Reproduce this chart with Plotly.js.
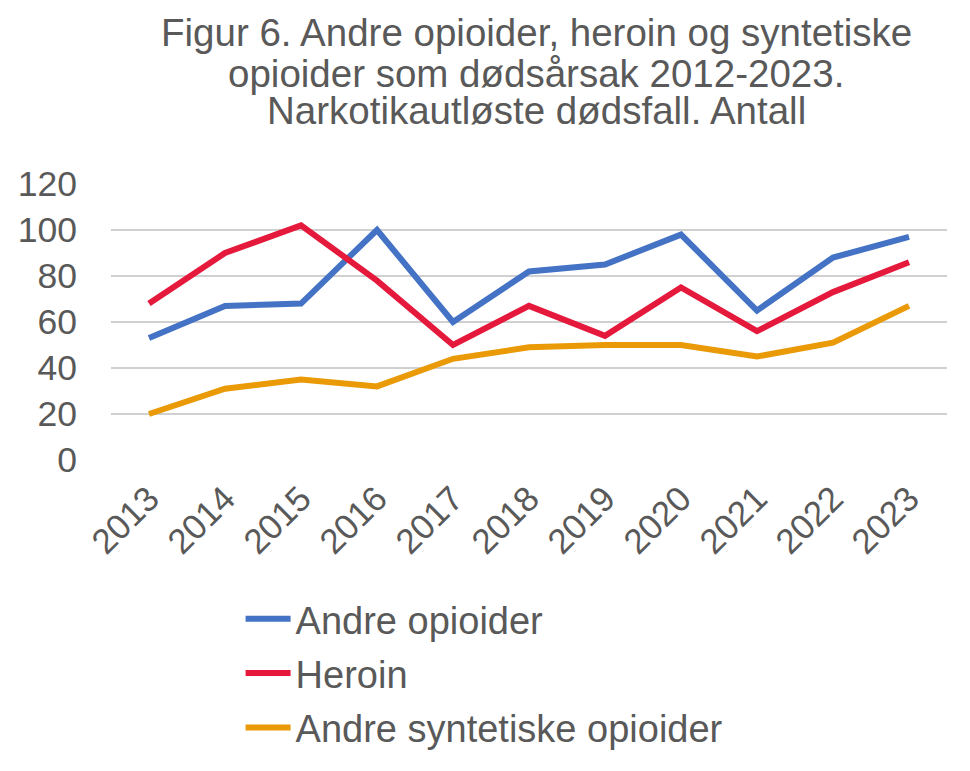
<!DOCTYPE html>
<html>
<head>
<meta charset="utf-8">
<script src="https://cdn.plot.ly/plotly-3.0.1.min.js"></script>
<style>html,body{margin:0;padding:0;background:#fff;}</style>
</head>
<body>
<div id="chart" style="width:970px;height:771px;"></div>
<script>
const years = ["2013","2014","2015","2016","2017","2018","2019","2020","2021","2022","2023"];
const andreOpioider = [53, 67, 68, 100, 60, 82, 85, 98, 65, 88, 97];
const heroin = [68, 90, 102, 78, 50, 67, 54, 75, 56, 73, 86];
const syntetiske = [20, 31, 35, 32, 44, 49, 50, 50, 45, 51, 67];
const seriesNames = ["Andre opioider", "Heroin", "Andre syntetiske opioider"];
const yTicks = [0, 20, 40, 60, 80, 100, 120];
const titleLines = [
  "Figur 6. Andre opioider, heroin og syntetiske",
  "opioider som dødsårsak 2012-2023.",
  "Narkotikautløste dødsfall. Antall"
];

const font = "'Liberation Sans', Arial, sans-serif";
const grey = "#595959";
const colors = ["#4472C4", "#E5193B", "#E99A06"];
const seriesData = [andreOpioider, heroin, syntetiske];

const traces = seriesData.map((vals, i) => ({
  type: "scatter",
  mode: "lines",
  x: years,
  y: vals,
  name: seriesNames[i],
  legendgroup: "g" + i,
  line: {color: colors[i], width: 6}
}));

// title lines placed individually to match the reference line spacing
const titleY = [29, 71, 109]; // pixel centres from top
const titleAnnotations = titleLines.map((t, i) => ({
  text: t,
  xref: "paper", yref: "paper",
  x: (536 - 111) / 836, xanchor: "center",
  y: (467 - titleY[i]) / 283, yanchor: "middle",
  showarrow: false,
  font: {family: font, size: 38.5, color: grey}
}));

const layout = {
  width: 970,
  height: 771,
  paper_bgcolor: "#fff",
  plot_bgcolor: "#fff",
  margin: {l: 111, r: 23, t: 184, b: 304},
  font: {family: font, color: grey, size: 35},
  title: {text: ""},
  annotations: titleAnnotations,
  xaxis: {
    type: "category",
    range: [-0.5, 10.5],
    tickangle: -45,
    showgrid: false,
    showline: false,
    zeroline: false,
    ticks: "",
    ticklabelstandoff: 10,
    tickfont: {family: font, size: 35, color: grey}
  },
  yaxis: {
    range: [0, 120],
    tickvals: yTicks,
    showgrid: true,
    gridcolor: "#D0D0D0",
    gridwidth: 1.5,
    zeroline: false,
    showline: false,
    ticks: "",
    ticklabelstandoff: 33,
    tickfont: {family: font, size: 35.5, color: grey}
  },
  showlegend: true,
  legend: {
    orientation: "v",
    x: 0.155, xanchor: "left",
    y: -0.462, yanchor: "top",
    traceorder: "grouped",
    tracegroupgap: 2,
    itemwidth: 45,
    font: {family: font, size: 38, color: grey},
    bgcolor: "rgba(0,0,0,0)"
  }
};

Plotly.newPlot("chart", traces, layout, {displayModeBar: false, staticPlot: true});
</script>
</body>
</html>
